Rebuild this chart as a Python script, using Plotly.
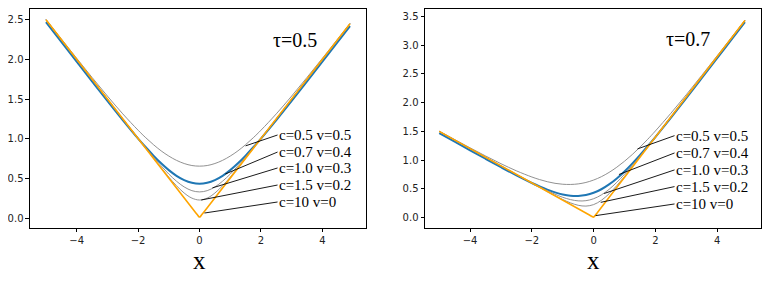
import plotly.graph_objects as go

# ---------------- data ----------------
x_grid = [-5, -4.5, -4, -3.5, -3, -2.5, -2, -1.75, -1.5, -1.25, -1, -0.75, -0.5, -0.25,
          0, 0.25, 0.5, 0.75, 1, 1.25, 1.5, 1.75, 2, 2.5, 3, 3.5, 4, 4.5, 4.9]

# tau = 0.5
g1_05 = [2.505, 2.258, 2.014, 1.773, 1.538, 1.314, 1.107, 1.012, 0.925, 0.847, 0.781, 0.727, 0.687, 0.662,
         0.654, 0.662, 0.687, 0.727, 0.781, 0.847, 0.925, 1.012, 1.107, 1.314, 1.538, 1.773, 2.014, 2.258, 2.455]
blue_05 = [2.470, 2.221, 1.972, 1.724, 1.477, 1.235, 1.002, 0.892, 0.787, 0.690, 0.604, 0.532, 0.478, 0.444,
           0.432, 0.444, 0.478, 0.532, 0.604, 0.690, 0.787, 0.892, 1.002, 1.235, 1.477, 1.724, 1.972, 2.221, 2.420]
g3_05 = [2.500, 2.250, 2.000, 1.750, 1.501, 1.252, 1.007, 0.887, 0.770, 0.658, 0.554, 0.464, 0.392, 0.345,
         0.329, 0.345, 0.392, 0.464, 0.554, 0.658, 0.770, 0.887, 1.007, 1.252, 1.501, 1.750, 2.000, 2.250, 2.450]
g4_05 = [2.500, 2.250, 2.000, 1.750, 1.500, 1.250, 1.001, 0.877, 0.753, 0.632, 0.515, 0.407, 0.315, 0.251,
         0.227, 0.251, 0.315, 0.407, 0.515, 0.632, 0.753, 0.877, 1.001, 1.250, 1.500, 1.750, 2.000, 2.250, 2.450]
x_orange = [-5, -0.15, -0.05, 0, 0.05, 0.15, 4.9]
or_05 = [2.500, 0.080, 0.030, 0.012, 0.030, 0.080, 2.450]

# tau = 0.7
g1_07 = [1.505, 1.358, 1.214, 1.073, 0.938, 0.814, 0.707, 0.662, 0.625, 0.597, 0.581, 0.577, 0.587, 0.612,
         0.654, 0.712, 0.787, 0.877, 0.981, 1.097, 1.225, 1.362, 1.507, 1.814, 2.138, 2.473, 2.814, 3.158, 3.435]
blue_07 = [1.470, 1.321, 1.172, 1.024, 0.877, 0.735, 0.602, 0.542, 0.487, 0.440, 0.404, 0.382, 0.378, 0.394,
           0.432, 0.494, 0.578, 0.682, 0.804, 0.940, 1.087, 1.242, 1.402, 1.735, 2.077, 2.424, 2.772, 3.121, 3.400]
g3_07 = [1.500, 1.350, 1.200, 1.050, 0.901, 0.752, 0.607, 0.537, 0.470, 0.408, 0.354, 0.314, 0.292, 0.295,
         0.329, 0.395, 0.492, 0.614, 0.754, 0.908, 1.070, 1.237, 1.407, 1.752, 2.101, 2.450, 2.800, 3.150, 3.430]
g4_07 = [1.500, 1.350, 1.200, 1.050, 0.900, 0.750, 0.601, 0.527, 0.453, 0.382, 0.315, 0.257, 0.215, 0.201,
         0.227, 0.301, 0.415, 0.557, 0.715, 0.882, 1.053, 1.227, 1.401, 1.750, 2.100, 2.450, 2.800, 3.150, 3.430]
or_07 = [1.500, 0.050, 0.020, 0.010, 0.038, 0.105, 3.430]

labels = ["c=0.5 v=0.5", "c=0.7 v=0.4", "c=1.0 v=0.3", "c=1.5 v=0.2", "c=10 v=0"]
tau_labels = ["τ=0.5", "τ=0.7"]
# annotation text anchors and pointed-at curve points
txt_x_05 = [2.54] * 5
txt_y_05 = [1.047, 0.832, 0.631, 0.416, 0.202]
pt_x_05 = [1.50, 0.84, 0.42, 0.055, 0.16]
pt_y_05 = [0.91, 0.555, 0.38, 0.227, 0.063]
txt_x_07 = [2.62] * 5
txt_y_07 = [1.426, 1.125, 0.83, 0.54, 0.238]
pt_x_07 = [1.42, 0.82, 0.34, 0.23, 0.065]
pt_y_07 = [1.195, 0.75, 0.42, 0.266, 0.035]
y_ticks_05 = [0.0, 0.5, 1.0, 1.5, 2.0, 2.5]
y_ticks_07 = [0.0, 0.5, 1.0, 1.5, 2.0, 2.5, 3.0, 3.5]
x_ticks = [-4, -2, 0, 2, 4]

# ---------------- figure ----------------
fig = go.Figure()
GRAY = "#858585"
BLUE = "#1f77b4"
ORANGE = "#ffa500"


def add_panel(xa, ya, g1, bl, g3, g4, orv):
    fig.add_trace(go.Scatter(x=x_grid, y=g1, mode="lines", line=dict(color=GRAY, width=0.9, shape="spline"),
                             xaxis=xa, yaxis=ya, showlegend=False))
    fig.add_trace(go.Scatter(x=x_grid, y=bl, mode="lines", line=dict(color=BLUE, width=2, shape="spline"),
                             xaxis=xa, yaxis=ya, showlegend=False))
    fig.add_trace(go.Scatter(x=x_grid, y=g3, mode="lines", line=dict(color=GRAY, width=0.9, shape="spline"),
                             xaxis=xa, yaxis=ya, showlegend=False))
    fig.add_trace(go.Scatter(x=x_grid, y=g4, mode="lines", line=dict(color=GRAY, width=0.9, shape="spline"),
                             xaxis=xa, yaxis=ya, showlegend=False))
    fig.add_trace(go.Scatter(x=x_orange, y=orv, mode="lines", line=dict(color=ORANGE, width=1.6, shape="spline"),
                             xaxis=xa, yaxis=ya, showlegend=False))


add_panel("x", "y", g1_05, blue_05, g3_05, g4_05, or_05)
add_panel("x2", "y2", g1_07, blue_07, g3_07, g4_07, or_07)

annotations = []
serif = "Liberation Serif, Times New Roman, serif"
for xr, yr, tx, ty, px, py in [("x", "y", txt_x_05, txt_y_05, pt_x_05, pt_y_05),
                               ("x2", "y2", txt_x_07, txt_y_07, pt_x_07, pt_y_07)]:
    for i, lab in enumerate(labels):
        annotations.append(dict(
            x=px[i], y=py[i], xref=xr, yref=yr,
            ax=tx[i], ay=ty[i], axref=xr, ayref=yr,
            text=lab, showarrow=True, arrowhead=0, arrowwidth=0.9, arrowcolor="black",
            xanchor="left", yanchor="middle", borderpad=0, standoff=0,
            font=dict(family=serif, size=15, color="black")))

annotations.append(dict(x=3.1, y=2.245, xref="x", yref="y", text=tau_labels[0], showarrow=False,
                        font=dict(family=serif, size=20, color="black")))
annotations.append(dict(x=3.07, y=3.10, xref="x2", yref="y2", text=tau_labels[1], showarrow=False,
                        font=dict(family=serif, size=20, color="black")))
annotations.append(dict(x=0, y=0, xref="x", yref="paper", text="x", showarrow=False, borderpad=0,
                        font=dict(family=serif, size=25, color="black"), yanchor="bottom"))
annotations.append(dict(x=0, y=0, xref="x2", yref="paper", text="x", showarrow=False, borderpad=0,
                        font=dict(family=serif, size=25, color="black"), yanchor="bottom"))

axis_common = dict(showgrid=False, zeroline=False, showline=True, linecolor="black", linewidth=1,
                   mirror=True, ticks="outside", ticklen=3.5, tickwidth=0.8, tickcolor="black",
                   tickfont=dict(family="DejaVu Sans", size=10, color="#222222"))

# the page body has an 8px margin, so the figure is sized to fit the window
fig.update_layout(
    width=766, height=267,
    margin=dict(l=0, r=0, t=0, b=0),
    paper_bgcolor="white", plot_bgcolor="white",
    xaxis=dict(domain=[0.02872, 0.46736], range=[-5.52, 5.42], tickvals=x_ticks, anchor="y", **axis_common),
    yaxis=dict(domain=[0.17603, 0.9981], range=[-0.126, 2.642], tickvals=y_ticks_05, tickformat=".1f",
               anchor="x", **axis_common),
    xaxis2=dict(domain=[0.54439, 0.98303], range=[-5.46, 5.42], tickvals=x_ticks, anchor="y2", **axis_common),
    yaxis2=dict(domain=[0.17603, 0.9981], range=[-0.18, 3.637], tickvals=y_ticks_07, tickformat=".1f",
                anchor="x2", **axis_common),
    annotations=annotations,
    showlegend=False,
)

fig.write_html("out.html")
